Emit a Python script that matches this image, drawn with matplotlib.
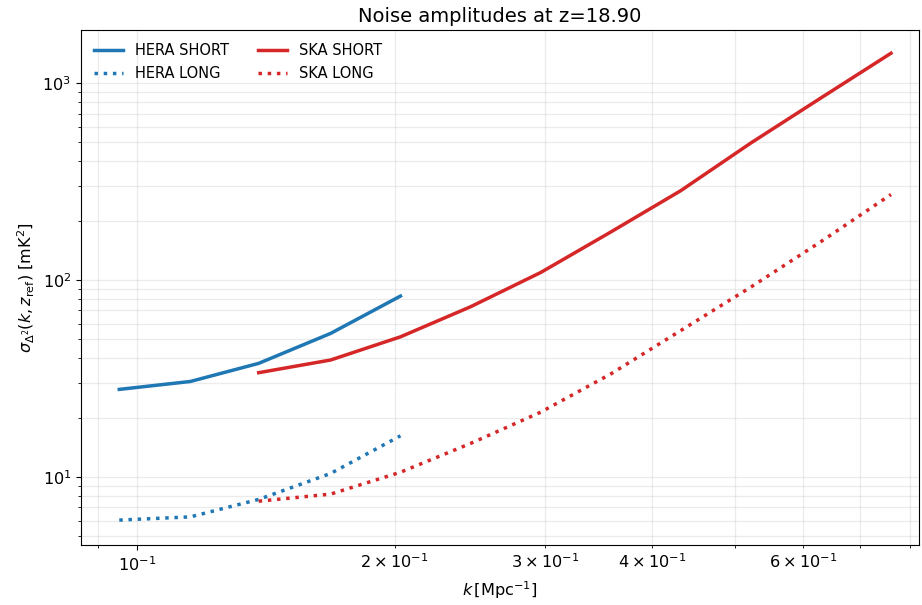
import matplotlib
matplotlib.use("Agg")
import matplotlib.pyplot as plt

# values
k_hera = [0.0954, 0.1155, 0.1388, 0.1684, 0.2032]
hera_short = [27.8, 30.5, 37.7, 53.5, 82.8]
hera_long = [6.03, 6.26, 7.68, 10.4, 16.15]

k_ska = [0.1388, 0.1684, 0.2032, 0.2454, 0.2963, 0.3577, 0.4318, 0.5214, 0.6295, 0.760]
ska_short = [33.8, 39.2, 51.4, 73.1, 109.1, 175.1, 284, 496, 840, 1417]
ska_long = [7.52, 8.17, 10.55, 14.78, 21.3, 33.3, 55.3, 92.0, 156.5, 271.6]

plt.rcParams["font.size"] = 11.6

fig, ax = plt.subplots(figsize=(9.22, 6.05), dpi=100)
fig.subplots_adjust(left=0.088, right=0.997, top=0.950, bottom=0.099)

ax.plot(k_hera, hera_short, color="tab:blue", lw=2.5, label="HERA SHORT")
ax.plot(k_hera, hera_long, color="tab:blue", lw=2.5, ls=":", label="HERA LONG")
ax.plot(k_ska, ska_short, color="tab:red", lw=2.5, label="SKA SHORT")
ax.plot(k_ska, ska_long, color="tab:red", lw=2.5, ls=":", label="SKA LONG")

ax.set_xscale("log")
ax.set_yscale("log")
ax.set_xlim(0.0861, 0.82)
ax.set_ylim(4.5, 1854)
ax.grid(True, which="both", color="lightgray", alpha=0.45, lw=0.9)

ax.set_xlabel(r"$k\,[{\rm Mpc}^{-1}]$")
ax.set_ylabel(r"$\sigma_{\Delta^2}(k, z_{\rm ref})$ [mK$^2$]")
ax.set_title("Noise amplitudes at z=18.90", fontsize=14)
ax.legend(loc="upper left", ncol=2, frameon=False, fontsize=10.5)

fig.savefig("out.png")
